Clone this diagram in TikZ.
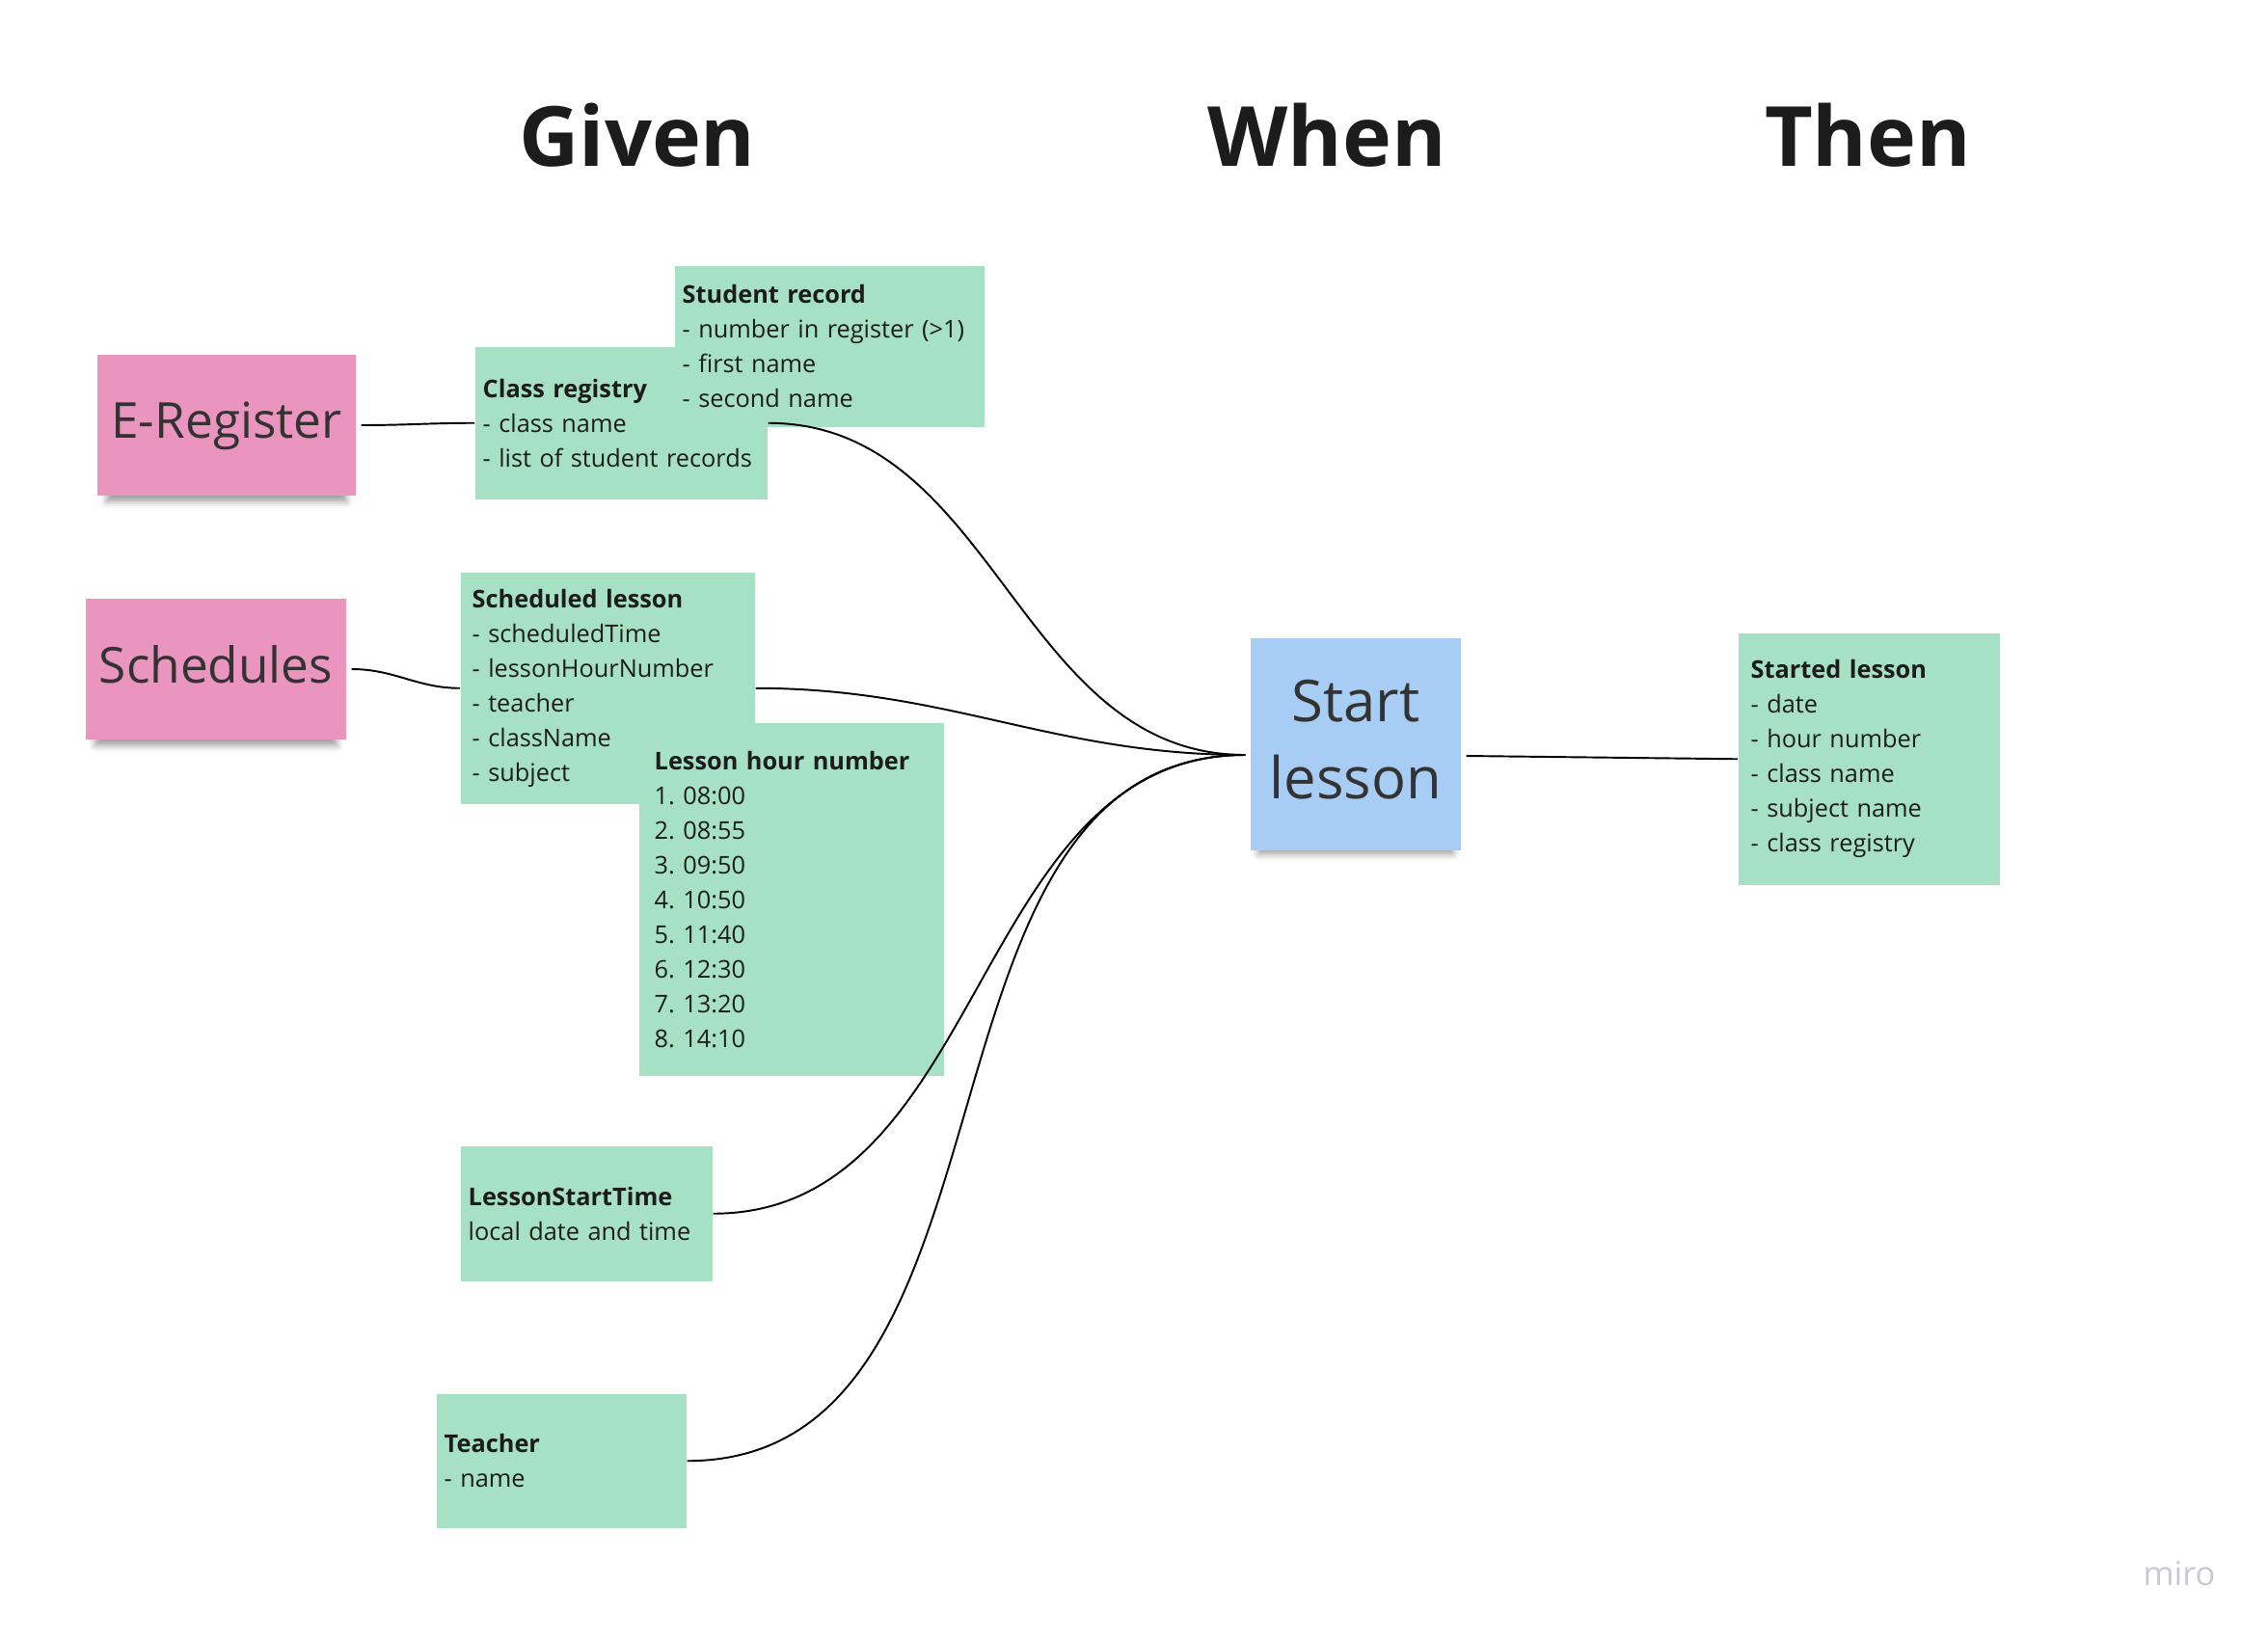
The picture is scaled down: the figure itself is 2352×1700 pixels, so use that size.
\documentclass[tikz,border=0pt]{standalone}
\usepackage{fontspec}
\setmainfont{Open Sans}
\usepackage{tikz}
\usetikzlibrary{shadows.blur}
\frenchspacing
\definecolor{notegreen}{HTML}{A6E1C5}
\definecolor{stickypink}{HTML}{EA95BD}
\definecolor{stickyblue}{HTML}{A7CDF4}
\definecolor{stickytext}{HTML}{333333}
\definecolor{inktext}{HTML}{1C1C1C}
\definecolor{miromark}{HTML}{C9C9D3}
\tikzset{
  note/.style={
    fill=notegreen,
    anchor=north west,
    align=left,
    inner xsep=0.08cm,
    inner ysep=0pt,
    text=inktext,
    font=\fontsize{7.2pt}{10.24pt}\selectfont
  },
  sticky/.style={
    shape=rectangle,
    inner sep=0pt,
    outer sep=0.06cm,
    text=stickytext,
    text depth=0.3em,
    blur shadow={shadow xshift=0pt, shadow yshift=-1.2mm, shadow opacity=40, shadow scale=0.93},
    font=\fontsize{14.6pt}{18pt}\selectfont
  },
  header/.style={
    font=\bfseries\fontsize{24.5pt}{28pt}\selectfont,
    text=inktext
  },
  link/.style={
    draw,
    line width=0.55pt
  }
}
\begin{document}
\begin{tikzpicture}[x=0.01cm, y=-0.01cm]
  \useasboundingbox (0,0) rectangle (2352,1700);

  % column titles
  \node[header] (given) at (661,140) {Given};
  \node[header] (when) at (1376,140) {When};
  \node[header] (then) at (1937,140) {Then};

  % stickies
  \node[sticky, fill=stickypink, minimum width=2.67cm, minimum height=1.46cm] (ereg) at (235,441) {E-Register};
  \node[sticky, fill=stickypink, minimum width=2.69cm, minimum height=1.46cm] (sched) at (224,694) {Schedules};
  \node[sticky, fill=stickyblue, minimum width=2.17cm, minimum height=2.2cm, align=center,
        font=\fontsize{17pt}{22.7pt}\selectfont] (start) at (1406,772) {Start\\lesson};
  \coordinate (startin) at ([yshift=-0.11cm]start.west);
  \coordinate (startout) at ([yshift=-0.12cm]start.east);

  % given
  \node[note, text width=2.87cm, minimum height=1.58cm] (classreg) at (492,359)
    {\textbf{Class registry}\\- class name\\- list of student records};
  \node[note, text width=3.05cm, minimum height=1.67cm] (student) at (699,275)
    {\textbf{Student record}\\- number in register (>1)\\- first name\\- second name};
  \node[note, text width=2.81cm, inner xsep=0.12cm, minimum height=2.4cm] (schedlesson) at (477,593)
    {\textbf{Scheduled lesson}\\- scheduledTime\\- lessonHourNumber\\- teacher\\- className\\- subject};
  \node[note, text width=2.84cm, inner xsep=0.16cm, minimum height=3.66cm] (hours) at (662,749)
    {\textbf{Lesson hour number}\\1. 08:00\\2. 08:55\\3. 09:50\\4. 10:50\\5. 11:40\\6. 12:30\\7. 13:20\\8. 14:10};
  \node[note, text width=2.45cm, minimum height=1.4cm] (starttime) at (477,1188)
    {\textbf{LessonStartTime}\\local date and time};
  \node[note, text width=2.43cm, minimum height=1.39cm] (teacher) at (452,1445)
    {\textbf{Teacher}\\- name};

  % then
  \node[note, text width=2.45cm, inner xsep=0.13cm, minimum height=2.61cm] (started) at (1802,656)
    {\textbf{Started lesson}\\- date\\- hour number\\- class name\\- subject name\\- class registry};

  \node[text=miromark, font=\fontsize{9.8pt}{12pt}\selectfont] (miro) at (2260,1632) {miro};

  \draw[link] (ereg.east) to[out=0, in=180] (classreg.west);
  \draw[link] (sched.east) to[out=0, in=180] (schedlesson.west);
  \draw[link] (classreg.east) to[out=0, in=180] (startin);
  \draw[link] (schedlesson.east) to[out=0, in=180] (startin);
  \draw[link] (starttime.east) to[out=0, in=180] (startin);
  \draw[link] (teacher.east) to[out=0, in=180] (startin);
  \draw[link] (startout) -- (started.west);
\end{tikzpicture}
\end{document}
